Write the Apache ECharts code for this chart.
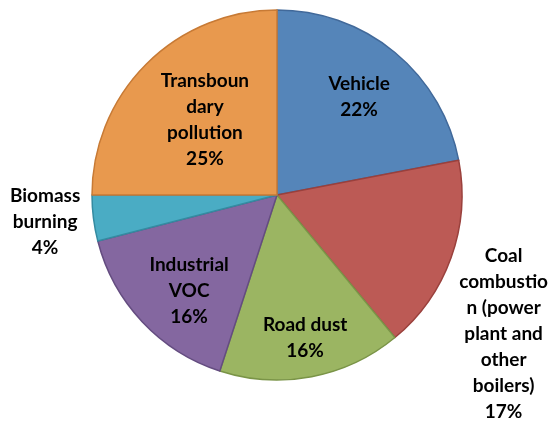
<!DOCTYPE html>
<html>
<head>
<meta charset="utf-8">
<script src="https://cdn.jsdelivr.net/npm/echarts@6/dist/echarts.min.js"></script>
<style>
  html, body { margin: 0; padding: 0; background: #fff; }
  #chart { width: 550px; height: 423px; }
</style>
</head>
<body>
<div id="chart"></div>
<script>
// Source shares (%), clockwise from 12 o'clock
const names = ["Vehicle", "Coal combustion (power plant and other boilers)", "Road dust", "Industrial VOC", "Biomass burning", "Transboundary pollution"];
const labelText = ["Vehicle", "Coal\ncombustio\nn (power\nplant and\nother\nboilers)", "Road dust", "Industrial\nVOC", "Biomass\nburning", "Transboun\ndary\npollution"];
const shares = [22, 17, 16, 16, 4, 25];
const fills = ["#5585b9", "#bc5a55", "#9bb562", "#8467a0", "#4aacc4", "#e8994e"];
const edges = ["#41699a", "#9a403c", "#7a9447", "#644c80", "#348ba1", "#c77a35"];
const outside = [false, true, false, false, true, false];
// small nudges to mimic the original label placement
const nudges = [[0, 1], [1, 58], [4, 16], [6, 8], [6, -3], [19, 16]];

const R = 185;
const center = [277, 195];
const font = { fontFamily: "Lato", fontWeight: "bold", fontSize: 19, lineHeight: 26, color: "#000" };

function initChart() {
  const chart = echarts.init(document.getElementById("chart"));

  const slices = names.map((n, i) => ({
    name: n,
    value: shares[i],
    itemStyle: { color: fills[i], borderColor: edges[i], borderWidth: 1.5 }
  }));

  // invisible rings used only to place labels
  const labelRing = (showOutside) => names.map((n, i) => ({
    name: n,
    value: shares[i],
    label: {
      show: outside[i] === showOutside,
      offset: nudges[i],
      formatter: labelText[i] + "\n" + shares[i] + "%"
    }
  }));

  const option = {
    animation: false,
    series: [
      {
        type: "pie",
        center: center,
        radius: R,
        startAngle: 90,
        clockwise: true,
        data: slices,
        label: { show: false },
        labelLine: { show: false },
        silent: true
      },
      {
        type: "pie",
        center: center,
        radius: [R * 0.36, R],
        startAngle: 90,
        data: labelRing(false),
        itemStyle: { color: "transparent" },
        label: Object.assign({ position: "inside", align: "center" }, font),
        labelLine: { show: false },
        silent: true
      },
      {
        type: "pie",
        center: center,
        radius: [R, R * 1.56],
        startAngle: 90,
        data: labelRing(true),
        itemStyle: { color: "transparent" },
        label: Object.assign({ position: "inside", align: "center" }, font),
        labelLine: { show: false },
        silent: true
      }
    ]
  };
  chart.setOption(option);
}

document.addEventListener("DOMContentLoaded", initChart);
</script>
</body>
</html>
